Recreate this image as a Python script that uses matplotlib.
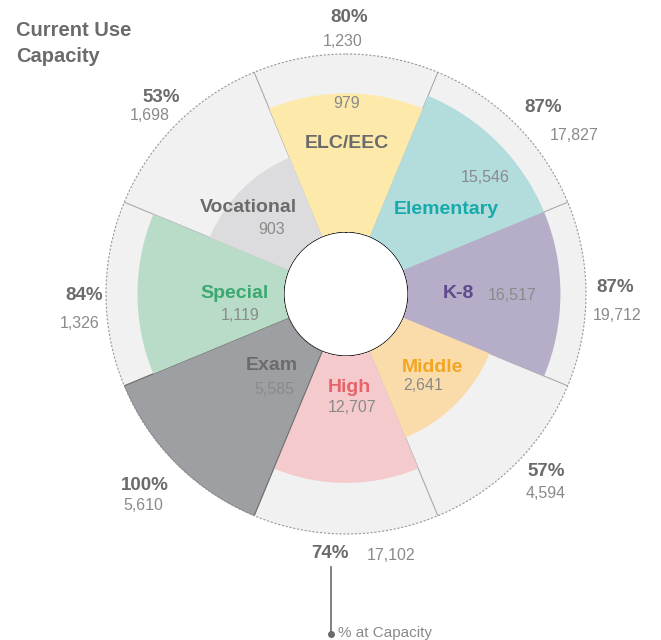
import numpy as np
import matplotlib
matplotlib.use("Agg")
import matplotlib.pyplot as plt

plt.rcParams['font.family'] = ['Liberation Sans', 'DejaVu Sans']

# Data (clockwise from top)
categories = ["ELC/EEC", "Elementary", "K-8", "Middle", "High", "Exam", "Special", "Vocational"]
pct_capacity = [80, 87, 87, 57, 74, 100, 84, 53]
current_use = [979, 15546, 16517, 2641, 12707, 5585, 1119, 903]
capacity = [1230, 17827, 19712, 4594, 17102, 5610, 1326, 1698]

fill_colors = ["#fdeaab", "#b3dcdc", "#b6aec8", "#fadcab", "#f5cacc", "#9e9fa3", "#b9dcc9", "#dcdcde"]
label_colors = ["#6b6b6b", "#17aaaa", "#5e4a8c", "#f4a623", "#e5646b", "#6b6b6b", "#3aa970", "#6b6b6b"]

W, H = 661, 640
fig = plt.figure(figsize=(W / 100, H / 100), dpi=100)

# polar axes: center (346, 294) px, radius 240 px
cx, cy, R = 346, 294, 240
ax = fig.add_axes([(cx - R) / W, (H - cy - R) / H, 2 * R / W, 2 * R / H], projection='polar')
ax.set_theta_zero_location('N')
ax.set_theta_direction(-1)

rmin = 0.095
ax.set_ylim(rmin, 1.0)
ax.set_rorigin(-0.22)

n = len(categories)
theta = np.arange(n) * 2 * np.pi / n
width = 2 * np.pi / n
frac = np.array(pct_capacity) / 100.0

# gray background ring (capacity)
ax.bar(theta, 1.0 - rmin, width=width, bottom=rmin, color="#f1f1f1", edgecolor="none", zorder=1)

# sector boundary lines
for a in theta - width / 2:
    ax.plot([a, a], [rmin, 1.0], color="#aaaaaa", lw=0.8, zorder=2)

# current use wedges
for i in range(n):
    ec = "#6e6e6e" if pct_capacity[i] == 100 else "none"
    ax.bar(theta[i], frac[i] - rmin, width=width, bottom=rmin, color=fill_colors[i],
           edgecolor=ec, lw=0.8, zorder=3)

# outer dashed circle
t = np.linspace(0, 2 * np.pi, 500)
ax.plot(t, np.ones_like(t), color="#999999", lw=0.8, ls=(0, (2, 1.5)), zorder=4, clip_on=False)

ax.grid(False)
ax.set_xticks([])
ax.set_yticks([])
ax.spines['polar'].set_visible(False)
ax.patch.set_alpha(0)


def put(x, y, s, **kw):
    fig.text(x / W, 1 - y / H, s, ha=kw.pop('ha', 'center'), va=kw.pop('va', 'center'), **kw)


dark = "#6b6b6b"
light = "#8a8a8a"

# title
put(16, 31, "Current Use", ha='left', fontsize=14.5, fontweight='bold', color=dark)
put(16, 57, "Capacity", ha='left', fontsize=14.5, fontweight='bold', color=dark)

# outer labels: percentage and capacity
pct_pos = [(349, 18), (543, 107), (615, 288), (546, 471), (330, 553), (145, 485), (84, 296), (161, 98)]
cap_pos = [(343, 42), (574, 135), (617, 315), (546, 493), (391, 556), (143, 506), (80, 323), (150, 116)]
for i in range(n):
    put(*pct_pos[i], f"{pct_capacity[i]}%", fontsize=13.5, fontweight='bold', color=dark)
    put(*cap_pos[i], f"{capacity[i]:,}", fontsize=11.5, color=light)

# inner labels: category name and current use
name_pos = [(347, 144), (446, 210), (458, 294), (432, 367), (349, 387), (272, 366), (235, 293), (248, 208)]
use_pos = [(347, 104), (485, 177), (512, 296), (423, 386), (352, 408), (274, 390), (240, 316), (272, 230)]
for i in range(n):
    put(*name_pos[i], categories[i], fontsize=14, fontweight='bold', color=label_colors[i])
    put(*use_pos[i], f"{current_use[i]:,}", fontsize=11.5, color=light)

# legend annotation
fig.add_artist(plt.Line2D([331 / W, 331 / W], [1 - 567 / H, 1 - 634 / H], color="#6b6b6b", lw=1.2))
fig.add_artist(plt.Line2D([331 / W], [1 - 634 / H], marker='o', ms=4, color="#6b6b6b"))
put(338, 633, "% at Capacity", ha='left', fontsize=11, color=light)

fig.savefig("out.png", dpi=100)
